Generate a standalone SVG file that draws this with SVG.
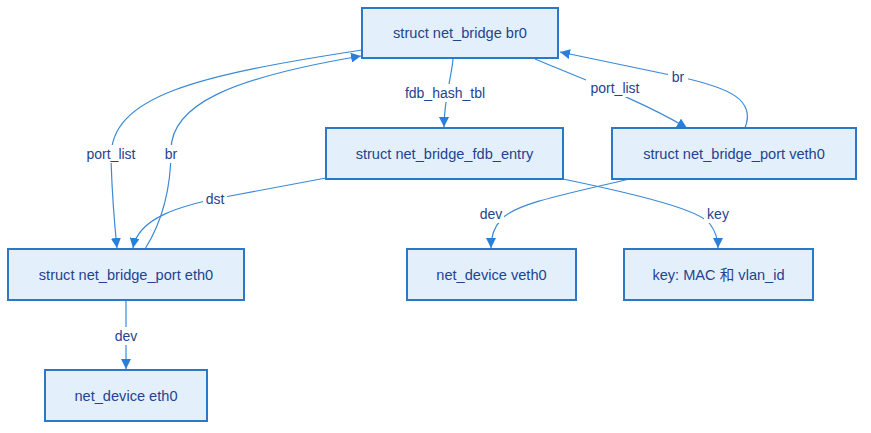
<svg xmlns="http://www.w3.org/2000/svg" width="871" height="433" viewBox="0 0 871 433">
<style>
.node rect{fill:#e3f0fc;stroke:#2a78c8;stroke-width:2}
.node text{font-family:"Liberation Sans",Arial,sans-serif;font-size:14.6px;fill:#1f4390;text-anchor:middle;dominant-baseline:central}
.edge{fill:none;stroke:#3a8ad6;stroke-width:1.2}
.lbl{font-family:"Liberation Sans",Arial,sans-serif;font-size:14px;fill:#1f4390;text-anchor:middle;dominant-baseline:central}
.lblbg{fill:#ffffff}
</style>
<defs>
<marker id="arr" viewBox="0 0 10 10" refX="10" refY="5" markerWidth="10" markerHeight="10" markerUnits="userSpaceOnUse" orient="auto">
<path d="M0,0 L10,5 L0,10 z" fill="#2a80d8"/>
</marker>
</defs>
<rect width="871" height="433" fill="#ffffff"/>
<g id="connectors">
<path class="edge" d="M453,59 C451,80 444,100 444,127" marker-end="url(#arr)"/>
<path class="edge" d="M535,59 C580,78 640,100 687,128" marker-end="url(#arr)"/>
<path class="edge" d="M745,128 C756,100 730,88 680,77 L560,52" marker-end="url(#arr)"/>
<path class="edge" d="M362,50 C200,75 108,95 111,160 C112,190 114,220 117,248" marker-end="url(#arr)"/>
<path class="edge" d="M145,249 C162,222 171,190 171,150 C171,105 230,78 361,56" marker-end="url(#arr)"/>
<path class="edge" d="M326,178 L230,196 C180,205 138,218 133,248" marker-end="url(#arr)"/>
<path class="edge" d="M630,179 C560,195 512,205 501,220 C493,228 491,238 491,248" marker-end="url(#arr)"/>
<path class="edge" d="M563,179 C640,195 700,210 710,224 C716,232 718,240 718,248" marker-end="url(#arr)"/>
<path class="edge" d="M126,300 L126,369" marker-end="url(#arr)"/>
<g id="edge-labels">
<rect class="lblbg" x="402" y="84" width="86" height="18"/><text class="lbl" x="445" y="93">fdb_hash_tbl</text>
<rect class="lblbg" x="586" y="79" width="58" height="18"/><text class="lbl" x="615" y="88">port_list</text>
<rect class="lblbg" x="668" y="68" width="20" height="18"/><text class="lbl" x="678" y="77">br</text>
<rect class="lblbg" x="82" y="145" width="58" height="18"/><text class="lbl" x="111" y="154">port_list</text>
<rect class="lblbg" x="161" y="145" width="20" height="18"/><text class="lbl" x="171" y="154">br</text>
<rect class="lblbg" x="203" y="190" width="24" height="18"/><text class="lbl" x="215" y="199">dst</text>
<rect class="lblbg" x="478" y="205" width="26" height="18"/><text class="lbl" x="491" y="214">dev</text>
<rect class="lblbg" x="704" y="205" width="28" height="18"/><text class="lbl" x="718" y="214">key</text>
<rect class="lblbg" x="113" y="327" width="26" height="18"/><text class="lbl" x="126" y="336">dev</text>
</g>
</g>
<g id="node-br0" class="node"><rect x="362" y="8" width="196" height="50"/><text x="460" y="33">struct net_bridge br0</text></g>
<g id="node-fdb" class="node"><rect x="326" y="128" width="237" height="51"/><text x="444.5" y="154">struct net_bridge_fdb_entry</text></g>
<g id="node-port-veth0" class="node"><rect x="612" y="128" width="244" height="51"/><text x="734" y="154">struct net_bridge_port veth0</text></g>
<g id="node-port-eth0" class="node"><rect x="8" y="249" width="236" height="51"/><text x="126" y="275">struct net_bridge_port eth0</text></g>
<g id="node-dev-veth0" class="node"><rect x="407" y="249" width="169" height="51"/><text x="491.5" y="275">net_device veth0</text></g>
<g id="node-key" class="node"><rect x="624" y="249" width="189" height="51"/><text x="718.5" y="275" style="font-family:'Liberation Sans','Noto Sans CJK SC',sans-serif">key: MAC 和 vlan_id</text></g>
<g id="node-dev-eth0" class="node"><rect x="45" y="370" width="162" height="51"/><text x="126" y="396">net_device eth0</text></g>
</svg>
